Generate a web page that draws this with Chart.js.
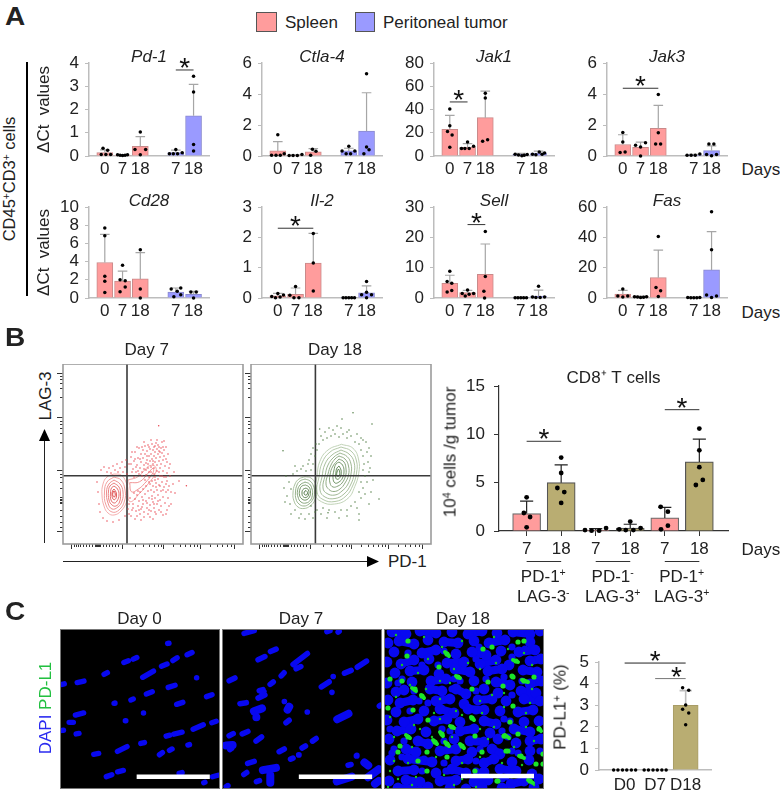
<!DOCTYPE html>
<html><head><meta charset="utf-8">
<script src="https://cdn.jsdelivr.net/npm/chart.js@4"></script>
<style>
html,body{margin:0;padding:0;background:#fff}
#page{position:relative;width:780px;height:791px;overflow:hidden;background:#fff;font-family:"Liberation Sans",Arial,sans-serif;color:#222}
canvas{position:absolute;display:block}
.t{position:absolute;white-space:pre;line-height:1;font-size:17px}
sup{font-size:.62em;line-height:0;vertical-align:.5em}
</style></head><body><div id="page"></div>
<script>
/* ---------- Panel A data ---------- */
const dayLabels=['0','7','18','7','18'];
const dayPositions=[0,1,2,4,5];
const legendLabels=['Spleen','Peritoneal tumor'];

const pd1Means=[.15,.03,.42,.15,1.73];
const pd1Errors=[.26,.05,.83,.25,3.08];
const pd1Dots=[[[-.1,.33],[.16,.25],[-.2,.06],[.06,.06],[.33,.06]],[[-.28,.05],[-.14,.03],[0,.02],[.14,.03],[.28,.05]],[[0,1.03],[-.3,.28],[.3,.28],[0,.05]],[[0,.28],[-.36,.1],[-.14,.1],[.1,.1],[.36,.14]],[[0,3.43],[0,2.75],[0,.5],[0,.22]]];

const ctla4Means=[.33,.05,.27,.33,1.6];
const ctla4Errors=[.93,.07,.47,.5,4.08];
const ctla4Dots=[[[0,1.37],[-.35,.05],[-.1,.05],[.14,.05],[.36,.15]],[[-.36,.03],[-.14,.03],[.1,.03],[.36,.1]],[[-.15,.05],[-.05,.43],[.15,.3]],[[0,.63],[-.38,.32],[-.15,.15],[.1,.15],[.34,.32]],[[0,5.3],[0,.58],[.14,.4],[-.15,.15]]];

const jak1Means=[23,7.5,33,1.5,2.5];
const jak1Errors=[35,10.7,55.8,2.2,4.2];
const jak1Dots=[[[0,40.5],[0,26],[-.13,21],[.13,18],[0,7.5]],[[0,12],[-.34,6.4],[-.15,6.4],[.09,6.4],[.34,8.4]],[[0,54],[0,50],[-.15,12.7],[.13,14]],[[-.32,1.4],[-.13,.8],[.06,.3],[.19,.6],[.36,1.2]],[[-.34,1.4],[-.15,1],[.04,3.5],[.2,1.4],[.34,2.6]]];

const jak3Means=[.74,.56,1.78,.08,.35];
const jak3Errors=[1.37,.9,3.27,.1,.65];
const jak3Dots=[[[0,1.52],[0,.9],[-.15,.22],[.13,.26]],[[-.28,.7],[0,.58],[.28,.85],[0,0]],[[0,3.96],[0,1.5],[-.15,.78],[.13,.78]],[[-.38,.05],[-.15,.05],[.08,.05],[.34,.13]],[[-.15,.78],[.13,.78],[-.28,.1],[0,.02],[.28,.1]]];

const cd28Means=[3.9,1.87,2.1,.66,.4];
const cd28Errors=[7,2.96,4.98,1.1,.73];
const cd28Dots=[[[0,7.7],[0,6.85],[0,2.4],[0,1.83],[0,.6]],[[0,3.6],[-.14,2],[.15,1.9],[.15,1.2],[-.14,.7]],[[0,5.3],[0,1],[0,0]],[[-.26,1],[.28,1.1],[.08,.73],[-.11,.15],[.28,.37]],[[-.15,.66],[.15,.66],[0,0]]];

const il2Means=[.07,.12,1.15,.01,.17];
const il2Errors=[.15,.33,2.13,.02,.4];
const il2Dots=[[[-.34,.05],[0,.15],[.32,.1],[-.13,.01],[.13,.03]],[[0,.38],[-.32,.09],[-.09,.01],[.19,.01]],[[0,2.13],[0,1.15],[0,.23]],[[-.32,.01],[-.16,.01],[0,.01],[.16,.01],[.32,.01]],[[0,.54],[0,.19],[-.28,.11],[.28,.11],[0,.01]]];

const sellMeans=[4.8,1.75,7.8,.1,.65];
const sellErrors=[7.5,2.5,17.8,.2,2.6];
const sellDots=[[[0,8.8],[-.15,5.4],[.11,4.9],[.11,2.5],[-.15,2]],[[0,2.6],[-.3,1.5],[-.13,.65],[.09,1.2],[.34,1.5]],[[0,21.9],[0,7.1],[-.08,2.2],[-.04,0]],[[-.32,.1],[-.16,.1],[0,.1],[.16,.1],[.32,.1]],[[0,3.85],[-.34,.3],[-.15,.2],[.09,.2],[.34,.3]]];

const fasMeans=[2.6,.9,13.4,.2,18.5];
const fasErrors=[5,1.3,31.6,.4,43.7];
const fasDots=[[[0,5.9],[-.28,1.3],[0,.6],[.28,1.3]],[[-.34,.9],[-.17,.6],[0,.4],[.17,.5],[.34,.9]],[[0,40.6],[-.13,7],[.13,4.8],[0,1]],[[-.34,.4],[-.17,.2],[0,.1],[.17,.1],[.34,.3]],[[0,56.9],[0,31.8],[-.28,2],[0,.4],[.28,1.3]]];

/* significance brackets: from position, to position, value */
const pd1Sig=[[4,5,3.7]];
const jak1Sig=[[0,1,46.5]];
const jak3Sig=[[0,2,4.37]];
const il2Sig=[[0,2,2.3]];
const sellSig=[[1,2,24.2]];

/* ---------- Panel B bar data ---------- */
const cd8Labels=['7','18','7','18','7','18'];
const cd8Positions=[0,1,2,3,4,5];
const cd8Means=[1.8,5,.1,.3,1.35,7.15];
const cd8Errors=[3.1,6.85,.25,.7,2.45,9.5];
const cd8Dots=[[[0,3.48],[-.08,1.86],[.1,1.45],[0,.38]],[[0,7.6],[0,6],[-.11,4.45],[.09,4.03],[0,2.9]],[[-.31,.1],[-.12,.03],[.1,.03],[.3,.3]],[[0,.97],[-.32,.17],[-.13,.1],[.09,.1],[.3,.3]],[[-.12,2.5],[.09,2],[.09,.55],[-.11,.17]],[[0,10.6],[0,8.35],[0,6.6],[.1,5.28],[-.1,4.76]]];
const cd8Sig=[[0,1,9.28],[4,5,12.55]];
const cd8Groups=[[0,1],[2,3],[4,5]];

/* ---------- Panel B flow plots (axis units of the plot frame) ---------- */
const flowMajorX=[8.4,59,100.4,136.7,171];
const flowMinorX=[11,13,15,17,20,23,26,29,32,33,34,35,36,37,40,43,46,49,52,55,72,80,86,91,95,98,110,117,122,127,131,134,147,154,159,164,168];
const flowMajorY=[9.3,53.3,105.7,167];
const flowMinorY=[12,15,19,24,33,57,60,64,69,78,110,113,118,124,133,134.5,136,137.5,139,146,152,158,163];
const day7Gate=[64,111.7];
const day18Gate=[64.4,111.7];
const day7Rings=[
 [[51,110],[58,111],[63,118],[65,128],[63.5,138],[58,147],[51,151],[45,149],[41,142],[39,131],[40,120],[44,113]],
 [[51,113],[58,116],[62,126],[61.5,137],[56,146],[49,148],[43,141],[41.5,128],[44,118]],
 [[51,116],[57,120],[60,128],[59,137],[55,143],[49,145],[45,139],[43.5,128],[46,120]],
 [[51,119],[56,123],[57.5,130],[56.5,138],[53,142],[49,141],[46,136],[45.5,127],[47,122]],
 [[51,122],[54.5,125],[56,131],[54,137],[51,139],[48,136],[47.5,129],[48.5,124]],
 [[51,125],[53,128],[53.5,132],[52,135.5],[50,135],[49,131],[49.5,127]],
 [[51,127],[52.3,130],[51.5,133],[50,132],[49.8,129]],
 [[65,116],[75,112.7],[81.7,106],[86.7,101.7],[92.4,102.7],[92.4,109.3],[85,120],[76.7,129.3],[67.4,137.7],[64.4,129]],
 [[66.7,118.7],[76.7,117.7],[85,109.3],[90,104.3],[90,108.7],[81.7,119.3],[75,125.3],[68.4,127.7]]
];
const day7Points=[[66,100],[68,93],[70,105],[71,97],[72,88],[73,108],[74,101],[75,94],[76,84],[77,104],[78,90],[78,98],[79,108],[80,86],[80,94],[81,101],[82,82],[82,90],[83,106],[84,96],[84,87],[85,100],[85,81],[86,92],[86,108],[87,85],[87,97],[88,103],[88,90],[89,80],[89,95],[90,86],[90,100],[91,92],[91,83],[92,98],[92,88],[93,79],[93,94],[94,85],[94,101],[95,90],[95,81],[96,97],[96,87],[97,93],[97,104],[98,84],[98,100],[99,89],[99,78],[100,96],[100,107],[101,86],[101,92],[102,102],[103,95],[103,83],[104,109],[105,90],
[69,146],[70,140],[72,135],[73,147],[74,131],[75,142],[76,137],[77,128],[77,150],[78,145],[79,133],[80,125],[80,140],[81,148],[82,130],[83,137],[83,122],[84,144],[85,127],[85,150],[86,134],[87,120],[87,141],[88,126],[88,147],[89,132],[89,117],[90,138],[90,122],[91,144],[91,128],[92,113],[92,134],[93,119],[93,150],[94,126],[94,140],[95,115],[95,131],[96,146],[96,121],[97,136],[97,112],[98,127],[98,142],[99,118],[100,133],[100,151],[101,123],[101,113],[102,139],[103,128],[104,117],[104,146],[105,134],[106,122],[107,112],[108,140],[110,120],[112,129],
[38,106],[41,103],[44,108],[46,104],[48,109],[50,102],[52,106],[54,100],[55,108],[57,104],[59,98],[60,108],[62,103],[63,96],[64,110],[34,118],[35,128],[36,140],[37,148],[40,154],[44,157],[50,158],[56,156],[62,152],[66,150],[65,145],
[95.7,61.7],[123.4,121.7],[116,117],[111,108],[107,100],
[79,112],[83,111],[69,88],[74,83],[81,78],[88,76],[94,76],[101,77],[104,98],[106,104],[71,113],[76,110],[86,113],[91,110],[96,108],[99,112],[103,113],[67,134],[71,129],[75,127],[82,116],[86,118],[92,116],[97,122],[93,123],[89,135],[84,139],[79,143],[74,152],[81,153],[87,153],[92,148],[98,148],[103,150],[106,142],[108,128],[103,120],[105,126],[100,126],[95,137],[91,140],[86,146],[80,136],[76,146],[70,144],[66,140],[68,152],[72,155],[78,156],[90,155],
[86,83],[79,83],[72,95],[68,100],[84,92],[90,97],[96,83],[92,82],[100,83],[97,88],[83,99],[77,95],[73,103],[85,104],[91,104],[94,107],[88,108],[81,105],[75,107],[69,108]];
const day18Rings=[
 [[54,112.7],[60,114],[64.5,120],[65.5,128],[64,136],[59,142],[53,144.5],[47,143],[43,137],[42,129],[44,120],[48,115]],
 [[54,115],[59,117],[62.5,122],[63.5,129],[62,135],[58,140],[53,142],[48,140],[45,135],[44.5,128],[46,121],[49,117]],
 [[54,118],[58.5,120],[61,125],[61.5,130],[59.5,136],[55,139],[50,138],[47,133],[46.5,127],[49,121]],
 [[54.5,121],[58,123],[59.5,128],[58.5,133],[55,136],[51,135],[48.5,131],[49,125],[51,122]],
 [[55,124],[57.5,126],[57.5,131],[55,133.5],[52,132.5],[51,129],[52,125.5]],
 [[55,126.5],[56.5,128.5],[55.5,131],[53.5,130.5],[53.2,128]],
 [[90.4,80.3],[102,84.3],[107.7,96],[107.7,109.3],[103.7,122.7],[97,134.3],[83.7,140],[70.4,137.7],[63.7,129.3],[66,112.7],[68.7,97.7],[77,86]],
 [[90,83],[100,87],[105.5,97],[105.5,109],[102,121],[95,132],[84,137.5],[72,135.5],[66,128],[68,113],[71,99],[79,88]],
 [[90,86],[98,90],[103,98],[103,110],[99.5,121],[93,130],[84,134.5],[74,133],[69,126],[71,113],[74,100],[81,91]],
 [[89,89],[96,92.5],[100,100],[100,110],[97,120],[91,127],[84,131],[76,129.5],[72,124],[74,112],[77,101],[83,93]],
 [[88,92],[94,95],[97.5,102],[97.5,111],[94,119],[89,125],[83,127.5],[78,125.5],[75,120],[77,110],[80,101],[84,95]],
 [[88,95],[93,98],[95,105],[94.5,112],[91,119],[87,122],[82,123],[79,119],[79,111],[82,102]],
 [[88,98],[91.5,101],[93,107],[91.5,114],[88,118],[84,119],[82,114],[83,106],[85,100]],
 [[88,102],[90,106],[90,111],[87.5,115],[85,114.5],[85,108],[86,104]],
 [[87.5,105],[88.8,108],[88,112],[86,112],[86,108]]
];
const day18Points=[[40,125],[38,118],[42,110],[46,107],[50,105],[55,107],[60,106],[36,132],[39,140],[44,146],[50,150],[58,150],[64,148],[52,102],[62,100],[64,92],[66,86],[68,80],[72,76],[76,74],[80,72],[84,70],[88,73],[92,70],[96,74],[100,72],[104,78],[108,80],[110,86],[112,92],[113,100],[112,106],[114,112],[110,118],[112,124],[108,128],[110,134],[104,138],[106,144],[100,142],[96,146],[90,146],[84,148],[78,146],[72,144],[66,146],[60,142],[32,86.7],[102,48.7],[91,55],[68.7,65],[121,60],[128,135],[77,148.7],[112,76],[74,68],[82,66],[90,64],[98,66],[106,70],[115,78],[116,88],[117,98],[118,108],[116,118],[114,130],[118,140],[70,150],[62,154],[96,152],[108,150],[65,80],[60,90],[58,96],[118,84],[120,92],[119,104],[122,116],[120,128],[108,156],[88,154],[76,154],[54,155],[48,154],[40,150],[34,138],[33,124],[35,112],[44,102],[57,100],[110,74],[96,68],[86,62],[78,64],[70,72],[62,84]];

/* ---------- Panel C data ---------- */
const imageTitles=['Day 0','Day 7','Day 18'];
/* nuclei as short strokes: x1,y1,x2,y2 */
const day0Nuclei=[[348,188,372,178],[375,178,396,168],[292,224,312,213],[215,247,246,240],[172,253,190,248],[402,233,443,208],[455,199,482,188],[488,183,510,168],[528,165,553,153],[472,129,488,127],[474,262,505,252],[555,233,566,230],[412,282,440,271],[368,300,386,293],[320,310,334,305],[498,313,527,303],[583,290,610,280],[210,345,245,335],[192,365,216,365],[352,362,365,358],[405,338,414,336],[172,390,188,388],[212,401,232,397],[468,408,490,402],[490,402,525,393],[545,388,585,370],[598,368,622,360],[330,455,368,435],[396,430,418,424],[450,466,468,452],[478,452,496,442],[530,435,546,430],[262,462,288,457],[298,530,325,520],[330,515,358,508],[505,520,525,514],[600,530,627,522],[575,548,590,543]];
const day7Nuclei=[[730,180,760,165],[765,155,792,143],[830,195,880,155],[838,207,862,195],[975,220,1005,207],[1012,203,1048,178],[648,243,675,229],[797,230,813,212],[910,262,942,240],[945,230,952,225],[945,278,945,272],[765,255,783,240],[733,272,755,265],[730,295,760,280],[742,290,755,268],[678,310,708,305],[805,305,815,300],[872,338,878,330],[810,370,828,355],[648,408,670,396],[685,402,712,390],[725,425,750,405],[885,425,905,410],[650,450,665,440],[790,456,815,442],[855,445,875,433],[700,490,730,480],[822,478,840,470],[845,465,857,460],[1010,470,1020,460],[690,525,708,512],[985,495,1005,490],[725,545,745,538],[640,560,655,552],[1075,320,1087,310],[690,100,730,88],[925,95,945,88],[958,98,970,88]];
const day7NucleiThick=[[715,335,755,320],[730,350,731,350],[815,335,828,310],[952,360,1000,335],[635,435,672,432],[1030,480,1055,500],[740,510,795,500],[770,515,770,555],[950,545,1010,525],[1040,535,1085,500],[1060,555,1085,535]];
const scaleBar0=[390,528,598,528];
const scaleBar7=[851,528,1059,528];
const scaleBar18=[77,147,150,147];
const day18Blue=[[8,3],[22,5],[36,2],[52,4],[68,3],[84,5],[98,2],[113,4],[129,3],[146,5],[156,2],[4,14],[15,12],[30,15],[44,11],[60,13],[74,14],[90,12],[105,14],[121,11],[146,13],[10,23],[38,24],[52,21],[72,25],[88,23],[102,26],[117,22],[135,23],[151,21],[3,33],[17,35],[30,31],[45,30],[63,34],[80,33],[96,35],[112,31],[125,36],[146,32],[157,30],[11,44],[26,42],[40,41],[55,45],[71,40],[86,43],[104,42],[118,40],[139,41],[153,43],[3,54],[28,53],[47,52],[62,50],[90,52],[112,53],[126,56],[146,55],[157,52],[12,63],[20,61],[46,60],[58,62],[72,60],[82,65],[100,60],[114,64],[137,62],[152,64],[4,71],[16,74],[29,71],[52,72],[66,70],[80,75],[94,71],[108,70],[122,72],[140,70],[156,72],[12,83],[40,82],[56,80],[70,84],[84,80],[100,81],[116,82],[134,83],[149,81],[3,91],[20,93],[34,90],[50,92],[63,90],[76,93],[100,92],[112,95],[140,93],[155,92],[13,102],[27,100],[42,103],[76,102],[90,100],[106,104],[130,100],[146,103],[5,110],[34,112],[44,115],[70,110],[86,112],[100,113],[114,110],[132,114],[146,112],[157,110],[22,120],[32,123],[56,122],[72,120],[88,123],[108,120],[116,125],[146,122],[6,131],[24,130],[48,133],[72,132],[84,130],[100,134],[110,130],[128,133],[145,131],[14,142],[30,141],[52,144],[68,140],[82,144],[100,143],[116,140],[132,142],[148,145],[5,152],[22,151],[36,153],[56,152],[72,151],[90,153],[104,151],[127,155],[140,152],[155,150],[14,159],[44,158],[66,159],[82,160],[98,158],[118,159],[150,158]];
const day18BlueSmall=[[24,24],[60,22],[95,18],[128,18],[141,20],[18,50],[38,36],[54,36],[92,30],[128,28],[70,50],[102,50],[120,48],[35,72],[44,74],[92,62],[128,66],[6,100],[58,100],[120,90],[124,108],[60,112],[18,128],[40,130],[60,134],[92,142],[122,148],[36,160],[8,124],[64,142],[26,82],[14,54],[76,52],[10,120],[118,102],[20,112],[128,122],[156,122],[92,82],[126,92],[66,102],[38,142],[92,132],[134,124],[68,60],[30,62],[138,52],[96,120],[118,150],[62,142]];
const day18BlueStrokes=[[8,3,22,5],[36,2,52,4],[84,5,98,2],[129,3,146,5],[15,12,30,15],[60,13,74,14],[105,14,121,11],[38,24,52,21],[88,23,102,26],[135,23,151,21],[17,35,30,31],[63,34,80,33],[96,35,112,31],[146,32,157,30],[26,42,40,41],[71,40,86,43],[104,42,118,40],[139,41,153,43],[47,52,62,50],[112,53,126,56],[146,55,157,52],[46,60,58,62],[72,60,82,65],[137,62,152,64],[16,74,29,71],[52,72,66,70],[94,71,108,70],[140,70,156,72],[56,80,70,84],[84,80,100,81],[134,83,149,81],[20,93,34,90],[50,92,63,90],[100,92,112,95],[13,102,27,100],[76,102,90,100],[130,100,146,103],[34,112,44,115],[86,112,100,113],[146,112,157,110],[22,120,32,123],[56,122,72,120],[108,120,116,125],[24,130,48,133],[72,132,84,130],[100,134,110,130],[14,142,30,141],[68,140,82,144],[116,140,132,142],[22,151,36,153],[56,152,72,151],[90,153,104,151],[127,155,140,152],[14,159,30,160]];
const day18Green=[[63,25],[23,27],[24,12],[55,38],[18,52],[6,50],[74,48],[38,67],[31,60],[29,81],[4,79],[88,89],[68,98],[58,105],[44,91],[24,108],[16,117],[51,113],[63,115],[78,117],[43,123],[63,128],[91,142],[98,123],[124,122],[128,47],[108,18],[99,20],[104,53],[88,60],[113,152],[43,142],[34,132],[14,123],[121,107],[126,93],[91,107],[134,13],[140,12],[132,32],[140,52],[150,48],[129,48],[119,57],[129,77],[120,107],[134,105],[155,100],[122,122],[137,127],[159,125],[152,135],[159,135],[146,152],[114,152]];
const day18GreenStrokes=[[37,66,40,69],[28,59,32,62],[61,23,65,27],[72,47,76,49],[87,88,90,91],[66,97,70,99],[56,103,59,107],[49,111,53,115],[61,113,65,117],[76,115,80,119],[138,51,144,53],[129,31,134,33],[121,106,125,109],[135,127,140,129],[155,99,157,102],[144,151,149,154],[22,106,26,109]];
const day18GreenSmall=[[12,6],[40,8],[58,18],[78,12],[110,8],[124,20],[140,24],[18,36],[44,30],[56,52],[70,40],[96,40],[112,34],[148,36],[12,68],[26,56],[56,70],[96,72],[108,66],[120,64],[146,74],[6,88],[30,96],[50,84],[72,82],[98,84],[120,78],[142,84],[10,108],[36,100],[56,90],[78,86],[96,100],[110,98],[142,98],[10,132],[28,118],[48,108],[68,108],[104,110],[130,118],[150,112],[6,142],[24,134],[52,128],[78,134],[96,128],[118,134],[138,136],[14,150],[32,148],[60,146],[78,150],[102,146],[128,148],[4,158],[28,156],[70,156],[92,158],[150,156],[42,60],[66,54],[84,34],[34,44],[148,60]];
const pdl1Labels=['D0','D7','D18'];
const pdl1Positions=[0,1,2];
const pdl1Means=[0,0,3];
const pdl1Errors=[0,0,3.68];
const pdl1Dots=[[[-.36,0],[-.22,0],[-.07,0],[.07,0],[.22,0],[.36,0]],[[-.36,0],[-.22,0],[-.07,0],[.07,0],[.22,0],[.36,0]],[[-.1,3.82],[.1,3.7],[0,3.01],[-.1,2.82],[.1,2.64],[0,2.1]]];
const pdl1Sig=[[0,2,4.96],[1,2,4.24]];

/* ---------- helpers ---------- */
const FONT='"Liberation Sans", Arial, sans-serif';
Chart.defaults.font.family=FONT;
Chart.defaults.font.size=17;
Chart.defaults.color='#222';
Chart.defaults.animation=false;
const page=document.getElementById('page');
const INK='#222',RED='#FF9C9C',BLUE='#9A9AFF',TAN='#B9AD72';

function txt(html,x,y,o={}){
  const d=document.createElement('div');d.className='t';d.innerHTML=html;
  d.style.left=x+'px';d.style.top=y+'px';
  d.style.transform='translate('+(o.left?'0':'-50%')+',-50%)'+(o.rot?' rotate(-90deg)':'')+(o.sx?' scaleX('+o.sx+')':'');
  if(o.size)d.style.fontSize=o.size+'px';
  if(o.bold)d.style.fontWeight='bold';
  if(o.color)d.style.color=o.color;
  page.appendChild(d);return d;
}
function box(x,y,w,h,bg,border){
  const d=document.createElement('div');
  d.style.cssText='position:absolute;box-sizing:border-box;left:'+x+'px;top:'+y+'px;width:'+w+'px;height:'+h+'px;background:'+bg+';'+(border?'border:1px solid '+border+';':'');
  page.appendChild(d);return d;
}
function addCanvas(l,t,w,h){
  const c=document.createElement('canvas');c.width=w;c.height=h;
  c.style.left=l+'px';c.style.top=t+'px';c.style.width=w+'px';c.style.height=h+'px';
  page.appendChild(c);return c;
}
function pts(list){return list.map(p=>({x:p[0],y:p[1]}));}
const GAP={x:NaN,y:NaN};
function lineSet(data,color,width,extra){
  return Object.assign({type:'scatter',data,showLine:true,borderColor:color,backgroundColor:color,borderWidth:width,pointRadius:0,clip:false,order:2},extra||{});
}
function errorData(pos,means,errs,cap){
  const out=[];
  pos.forEach((x,i)=>{ if(errs[i]>means[i]) out.push({x,y:means[i]},{x,y:errs[i]},GAP,{x:x-cap,y:errs[i]},{x:x+cap,y:errs[i]},GAP); });
  return out;
}
function dotData(pos,dots){
  const out=[];dots.forEach((g,i)=>g.forEach(d=>out.push({x:pos[i]+d[0],y:d[1]})));return out;
}
function sigData(sig){const o=[];sig.forEach(s=>o.push({x:s[0],y:s[2]},{x:s[1],y:s[2]},GAP));return o;}
function starPlugin(sig,dx){
  return {id:'stars',afterDatasetsDraw(ch){
    const c=ch.ctx,X=ch.scales.x,Y=ch.scales.y;c.save();
    c.font='28px '+FONT;c.fillStyle='#111';c.textAlign='center';c.textBaseline='alphabetic';
    sig.forEach((s,i)=>c.fillText('*',X.getPixelForValue((s[0]+s[1])/2)+((dx&&dx[i])||0),Y.getPixelForValue(s[2])+7));
    c.restore();}};
}

function barPanel(o){
  const topPad=o.topPad??10,titleH=o.title?o.titleH:0;
  const W=o.yW+o.w+2,H=topPad+titleH+o.h+o.xH;
  const c=addCanvas(o.l-o.yW,o.t-titleH-topPad,W,H);
  const plugins=[];
  if(o.sig)plugins.push(starPlugin(o.sig,o.starDx));
  if(o.extra)plugins.push(o.extra);
  const datasets=o.bars.map(b=>({type:'bar',label:b.label,data:b.idx.map(i=>({x:o.pos[i],y:o.means[i]})),backgroundColor:b.color,borderColor:b.border,borderWidth:o.barBorder??1,barThickness:o.barW,order:3,grouped:false}));
  datasets.push(lineSet(errorData(o.pos,o.means,o.errors,o.cap),o.errColor,o.errW,{label:'SD',order:2}));
  datasets.push({type:'scatter',label:'Animals',data:dotData(o.pos,o.dots),pointRadius:o.dotR,pointBackgroundColor:'#000',pointBorderWidth:0,showLine:false,clip:false,order:1});
  if(o.sig)o.sig.forEach((s,i)=>datasets.push(lineSet(sigData([s]),(o.sigColors&&o.sigColors[i])||'#333',o.sigW||1,{label:'Significant',order:2})));
  new Chart(c,{type:'bar',data:{datasets},plugins,options:{
    responsive:false,animation:false,events:[],
    layout:{autoPadding:false,padding:{top:topPad,right:2,left:0,bottom:0}},
    plugins:{legend:{display:false},tooltip:{enabled:false},
      title:{display:!!o.title,text:o.title||'',fullSize:false,color:INK,padding:0,font:{size:17,style:o.titleItalic?'italic':'normal',weight:'normal',lineHeight:titleH/17||1}}},
    scales:{
      x:{type:'linear',offset:false,min:o.xMin,max:o.xMax,
        afterBuildTicks:s=>{s.ticks=o.pos.map(v=>({value:v}));},
        afterFit:s=>{s.height=o.xH;},
        ticks:{autoSkip:false,maxRotation:0,minRotation:0,padding:o.xPad??3,color:INK,font:{size:17},callback:v=>o.labels[o.pos.indexOf(v)]},
        grid:{display:true,drawOnChartArea:false,drawTicks:!!o.xTick,tickLength:o.xTick||0,tickColor:o.axisColor,offset:false},
        border:{color:o.axisColor,width:o.axisW}},
      y:{min:0,max:o.max,
        afterFit:s=>{s.width=o.yW;},
        ticks:{stepSize:o.step,autoSkip:false,padding:o.yPad??6,color:INK,font:{size:17}},
        title:o.yTitle?{display:true,text:o.yTitle,color:INK,font:{size:17},padding:{top:o.yTitlePad||0,bottom:0}}:{display:false},
        grid:{display:true,drawOnChartArea:false,drawTicks:true,tickLength:o.yTick||4,tickColor:o.axisColor},
        border:{color:o.axisColor,width:o.axisW}}
    }}});
}

/* ---------- Panel A ---------- */
txt('A',14.5,16,{size:25,bold:true,sx:1.12});
box(256,12,21,20,RED,'#555');
txt(legendLabels[0],285,22,{left:true});
box(355,12,20,20,BLUE,'#555');
txt(legendLabels[1],383,22,{left:true});
box(25.5,62,2.6,234,'#000');
txt('CD45<sup>+</sup>CD3<sup>+</sup> cells',8.5,179,{rot:true,size:16.5});
txt('Days',741.5,169,{left:true});
txt('Days',741.5,312,{left:true});

const colL=[89,262,434,607];
const gX={pos:dayPositions,labels:dayLabels,xMin:-.89,xMax:5.87,w:120,yW:60,xH:30,barW:16,cap:.27,dotR:1.75,errColor:'#A6A6A6',errW:1.2,axisColor:'#BDBDBD',axisW:1.5,titleItalic:true,titleH:11,
  bars:[{label:legendLabels[0],idx:[0,1,2],color:RED,border:'#C98A8A'},{label:legendLabels[1],idx:[3,4],color:BLUE,border:'#8A8ACF'}]};
const dCt='\u0394Ct  values';
barPanel({...gX,l:colL[0],t:63,h:93,title:'Pd-1',max:4,step:1,means:pd1Means,errors:pd1Errors,dots:pd1Dots,sig:pd1Sig,yTitle:dCt,yTitlePad:5.5});
barPanel({...gX,l:colL[1],t:63,h:93,title:'Ctla-4',max:6,step:2,means:ctla4Means,errors:ctla4Errors,dots:ctla4Dots});
barPanel({...gX,l:colL[2],t:63,h:93,title:'Jak1',max:80,step:20,means:jak1Means,errors:jak1Errors,dots:jak1Dots,sig:jak1Sig});
barPanel({...gX,l:colL[3],t:63,h:93,title:'Jak3',max:6,step:2,means:jak3Means,errors:jak3Errors,dots:jak3Dots,sig:jak3Sig});
barPanel({...gX,l:colL[0],t:207,h:91,titleH:12,title:'Cd28',max:10,step:2,means:cd28Means,errors:cd28Errors,dots:cd28Dots,yTitle:dCt,yTitlePad:5.5});
barPanel({...gX,l:colL[1],t:207,h:91,titleH:12,title:'Il-2',max:3,step:1,means:il2Means,errors:il2Errors,dots:il2Dots,sig:il2Sig});
barPanel({...gX,l:colL[2],t:207,h:91,titleH:12,title:'Sell',max:30,step:10,means:sellMeans,errors:sellErrors,dots:sellDots,sig:sellSig});
barPanel({...gX,l:colL[3],t:207,h:91,titleH:12,title:'Fas',max:60,step:20,means:fasMeans,errors:fasErrors,dots:fasDots});

/* ---------- Panel B ---------- */
txt('B',14.5,337,{size:25,bold:true,sx:1.12});
txt('Day 7',146.7,349);
txt('Day 18',335,349);
txt('LAG-3',45,396,{rot:true});
txt('PD-1',388,561,{left:true});

function flowPlot(l,t,gate,rings,points,ringColors,dotColor){
  const pad=7;
  const c=addCanvas(l-pad,t,180+pad+2,180+pad);
  const datasets=[];
  datasets.push({type:'scatter',label:'Events',data:pts(points),pointRadius:.75,pointBorderWidth:0,pointBackgroundColor:dotColor,showLine:false,clip:false});
  rings.forEach((r,i)=>{
    datasets.push(lineSet(pts(r.concat([r[0]])),ringColors[i],.95,{tension:.45,label:'Contour'}));
  });
  const gx=gate[0],gy=gate[1];
  datasets.push(lineSet([{x:gx,y:0},{x:gx,y:180},GAP,{x:0,y:gy},{x:180,y:gy}],'#3a3a3a',1.6,{label:'Gate',order:0}));
  new Chart(c,{type:'scatter',data:{datasets},plugins:[{id:'frame',afterDatasetsDraw(ch){
    const k=ch.ctx,a=ch.chartArea,X=ch.scales.x,Y=ch.scales.y;k.save();
    k.strokeStyle='#333';k.lineWidth=1;k.beginPath();
    flowMajorY.forEach(v=>{const p=Math.round(Y.getPixelForValue(v))+.5;k.moveTo(a.left-6,p);k.lineTo(a.left,p);});
    flowMinorY.forEach(v=>{const p=Math.round(Y.getPixelForValue(v))+.5;k.moveTo(a.left-3,p);k.lineTo(a.left,p);});
    flowMajorX.forEach(v=>{const p=Math.round(X.getPixelForValue(v))+.5;k.moveTo(p,a.bottom);k.lineTo(p,a.bottom+5);});
    flowMinorX.forEach(v=>{const p=Math.round(X.getPixelForValue(v))+.5;k.moveTo(p,a.bottom);k.lineTo(p,a.bottom+3);});
    k.stroke();
    k.strokeStyle='#9b9b9b';k.lineWidth=1.6;k.strokeRect(a.left,a.top,a.right-a.left,a.bottom-a.top);
    k.restore();}}],
   options:{responsive:false,animation:false,events:[],
    layout:{autoPadding:false,padding:{left:pad,right:2,top:0,bottom:pad}},
    plugins:{legend:{display:false},tooltip:{enabled:false}},
    scales:{x:{type:'linear',min:0,max:180,display:false},y:{type:'linear',min:0,max:180,reverse:true,display:false}}}});
}
flowPlot(63,364,day7Gate,day7Rings,day7Points,['#F4AAAA','#F09A9A','#EC8888','#E87777','#E46666','#E05555','#DC4444','#F2A0A0','#F09090'],'#E8454F');
flowPlot(251,364,day18Gate,day18Rings,day18Points,['#A8C09C','#94B088','#80A074','#6E9060','#5E8250','#4E7442','#BDD0B2','#B0C6A4','#A4BC98','#98B28C','#8CA880','#7F9E74','#6F9264','#5F8654','#507A46'],'#4E7A42');

(function arrows(){
  const s=document.createElementNS('http://www.w3.org/2000/svg','svg');
  s.setAttribute('width','780');s.setAttribute('height','791');
  s.style.cssText='position:absolute;left:0;top:0;pointer-events:none';
  s.innerHTML='<line x1="44.5" y1="543" x2="44.5" y2="438" stroke="#222" stroke-width="1"/><polygon points="44.5,429 39,441 50,441" fill="#000"/>'+
   '<line x1="63" y1="561.5" x2="370" y2="561.5" stroke="#222" stroke-width="1"/><polygon points="379,561.5 367,556 367,567" fill="#000"/>';
  page.appendChild(s);
})();

barPanel({l:499,t:386,w:229,h:145,yW:60,xH:45,pos:cd8Positions,labels:cd8Labels,xMin:-.8,xMax:5.83,barW:28,cap:.19,dotR:2.4,errColor:'#222',errW:1.2,axisColor:'#333',axisW:1.2,xTick:5,xPad:3,yTick:5,yPad:9,barBorder:1.2,
  title:'CD8\u207A T cells',titleH:15,max:15,step:5,means:cd8Means,errors:cd8Errors,dots:cd8Dots,sig:cd8Sig,
  bars:[{label:'Day 7',idx:[0,2,4],color:RED,border:'#6b6b6b'},{label:'Day 18',idx:[1,3,5],color:TAN,border:'#555'}],
  extra:{id:'groupRules',afterDraw(ch){
    const k=ch.ctx,X=ch.scales.x,y=Math.round(ch.scales.y.bottom+29.5)+.5;k.save();k.strokeStyle='#333';k.lineWidth=1;k.beginPath();
    cd8Groups.forEach(g=>{k.moveTo(X.getPixelForValue(g[0]),y);k.lineTo(X.getPixelForValue(g[1]),y);});k.stroke();k.restore();}}});
txt('10<sup>4</sup> cells /g tumor',450,451.5,{rot:true});
txt('Days',741.5,549,{left:true});
txt('PD-1<sup>+</sup>',543.3,576);txt('LAG-3<sup>-</sup>',543.3,596);
txt('PD-1<sup>-</sup>',612.7,576);txt('LAG-3<sup>+</sup>',612.7,596);
txt('PD-1<sup>+</sup>',681.7,576);txt('LAG-3<sup>+</sup>',681.7,596);

/* ---------- Panel C ---------- */
txt('C',14.5,611,{size:25,bold:true,sx:1.12});
txt(imageTitles[0],139.5,618);txt(imageTitles[1],301,618);txt(imageTitles[2],463,618);
txt('<span style="color:#2A2AF0">DAPI</span> <span style="color:#22C040">PD-L1</span>',44.5,708,{rot:true,size:17});

/* stroke ends are pulled in by the round cap, so that a stroke spans what was read */
function segs(list,inset){
  const o=[];
  list.forEach(s=>{
    const dx=s[2]-s[0],dy=s[3]-s[1],L=Math.hypot(dx,dy)||1,f=Math.min(.48,(inset||0)/L);
    o.push({x:s[0]+dx*f,y:s[1]+dy*f},{x:s[2]-dx*f,y:s[3]-dy*f},GAP);
  });
  return o;
}
function imagePanel(l,t,w,h,xr,yr,datasets){
  const c=addCanvas(l,t,w,h);
  new Chart(c,{type:'scatter',data:{datasets},plugins:[{id:'black',beforeDraw(ch){const k=ch.ctx;k.save();k.fillStyle='#000';k.fillRect(0,0,ch.width,ch.height);k.restore();},
    afterDraw(ch){const k=ch.ctx;k.save();k.strokeStyle='#777';k.lineWidth=1;k.strokeRect(.5,.5,ch.width-1,ch.height-1);k.restore();}}],
   options:{responsive:false,animation:false,events:[],layout:{autoPadding:false,padding:0},
    plugins:{legend:{display:false},tooltip:{enabled:false}},
    scales:{x:{type:'linear',min:xr[0],max:xr[1],display:false},y:{type:'linear',min:yr[0],max:yr[1],reverse:true,display:false}}}});
}
const NUC='#0808F0';
function nuc(list,w,inset,label,color,order){return {type:'line',label:label||'DAPI',data:segs(list,inset),borderColor:color||NUC,borderWidth:w,borderCapStyle:'round',borderJoinStyle:'round',pointRadius:0,spanGaps:false,tension:0,order:order||3};}
function bar(b){return {type:'line',label:'Scale bar',data:segs([b]),borderColor:'#fff',borderWidth:4.5,borderCapStyle:'butt',pointRadius:0,spanGaps:false,order:0};}
imagePanel(60,629,160,160,[172,627],[85,565],[nuc(day0Nuclei,5.4,6),bar(scaleBar0)]);
imagePanel(222,629,160,160,[633,1087],[85,565],[nuc(day7Nuclei,5.6,6),nuc(day7NucleiThick,8,9),bar(scaleBar7)]);
imagePanel(384,629,160,160,[0,160],[0,160],[
  {type:'scatter',label:'DAPI',data:pts(day18Blue),pointRadius:5.4,pointBorderWidth:0,pointBackgroundColor:NUC,order:4},
  {type:'scatter',label:'DAPI',data:pts(day18BlueSmall),pointRadius:3.6,pointBorderWidth:0,pointBackgroundColor:NUC,order:4},
  nuc(day18BlueStrokes,8,0,'DAPI',NUC,4),
  {type:'scatter',label:'PD-L1',data:pts(day18GreenSmall),pointRadius:1.2,pointBorderWidth:0,pointBackgroundColor:'#14C820',order:2},
  {type:'scatter',label:'PD-L1',data:pts(day18Green),pointRadius:2.6,pointBorderWidth:0,pointBackgroundColor:'#1BE52A',order:1},
  nuc(day18GreenStrokes,4,0,'PD-L1','#1BE52A',1),
  bar(scaleBar18)]);

barPanel({l:599,t:654,w:112,h:116,yW:60,xH:24,topPad:8,pos:pdl1Positions,labels:pdl1Labels,xMin:-.84,xMax:2.83,barW:25,cap:.2,dotR:1.75,errColor:'#BDBDBD',errW:1.6,axisColor:'#BDBDBD',axisW:1.5,xPad:5,
  max:5,step:1,means:pdl1Means,errors:pdl1Errors,dots:pdl1Dots,sig:pdl1Sig,sigColors:['#222','#777'],starDx:[0,6],
  bars:[{label:'PD-L1+',idx:[0,1,2],color:TAN,border:'#A89C66'}]});
txt('PD-L1<sup>+</sup> (%)',560,707,{rot:true});
</script></body></html>
